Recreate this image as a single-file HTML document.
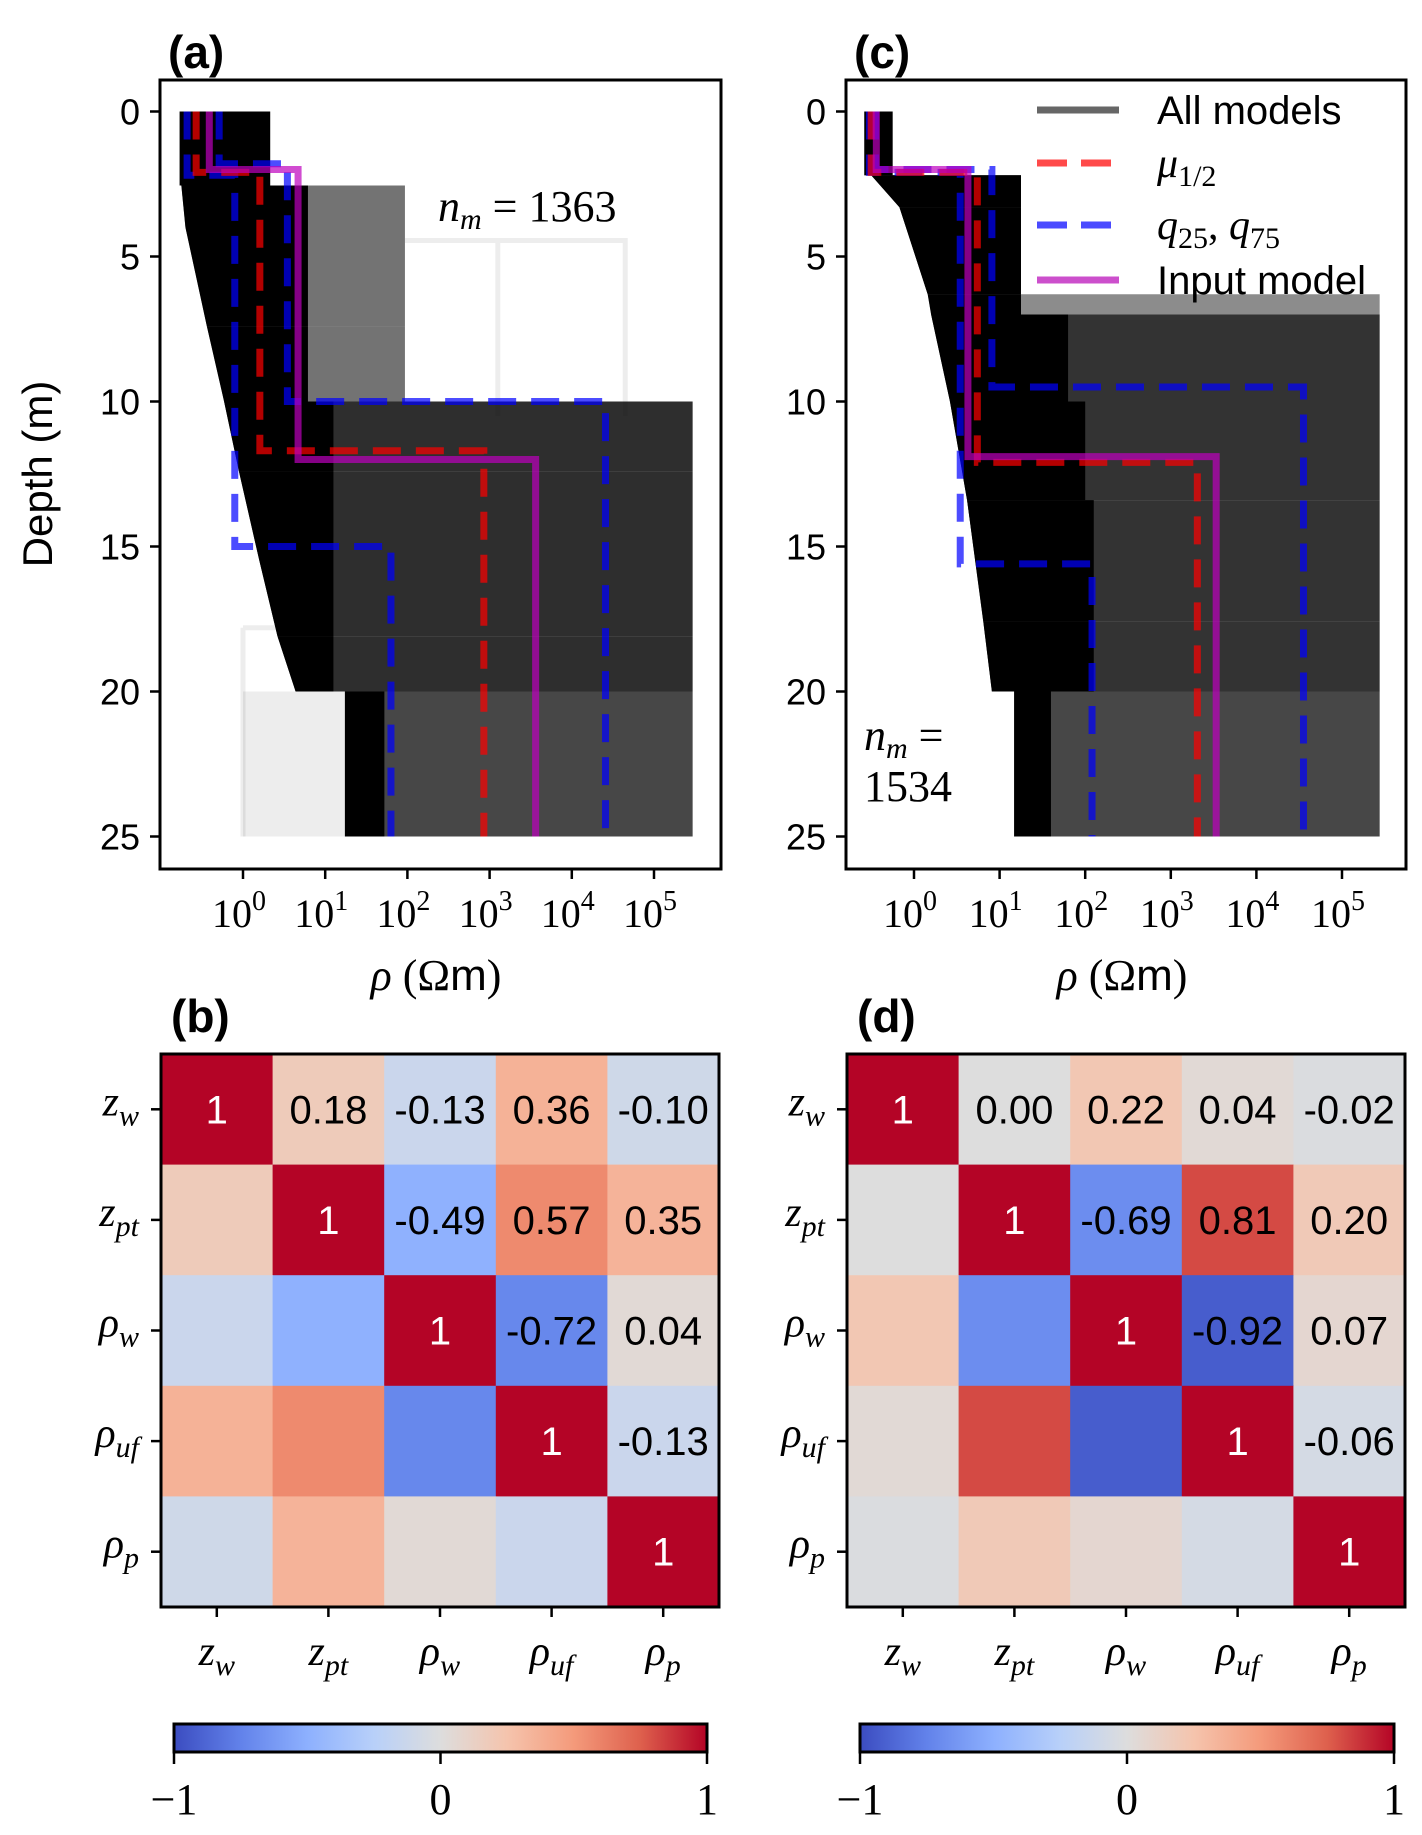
<!DOCTYPE html>
<html><head><meta charset="utf-8"><style>
html,body{margin:0;padding:0;background:#fff}
svg text{font-family:"Liberation Serif",serif}
.sans{font-family:"Liberation Sans",sans-serif}
</style></head><body>
<svg id="fig" xmlns="http://www.w3.org/2000/svg" width="1422" height="1830" viewBox="0 0 1422 1830">
<defs>
<linearGradient id="cw" x1="0" x2="1" y1="0" y2="0">
<stop offset="0" stop-color="rgb(59,76,192)"/><stop offset="0.125" stop-color="rgb(98,130,234)"/>
<stop offset="0.25" stop-color="rgb(141,176,254)"/><stop offset="0.375" stop-color="rgb(184,208,249)"/>
<stop offset="0.5" stop-color="rgb(221,221,221)"/><stop offset="0.625" stop-color="rgb(245,196,173)"/>
<stop offset="0.75" stop-color="rgb(244,154,123)"/><stop offset="0.875" stop-color="rgb(222,96,77)"/>
<stop offset="1" stop-color="rgb(180,4,38)"/>
</linearGradient>
<clipPath id="clipA"><rect x="160" y="80" width="561" height="789"/></clipPath>
<clipPath id="clipC"><rect x="846" y="80" width="560" height="789"/></clipPath>
</defs>
</svg>
<script>
// ---------- data ----------
const depthTicks = [0, 5, 10, 15, 20, 25];
const decadeTicks = [0, 1, 2, 3, 4, 5];
// ensemble layers (depth m, log10 rho): top, bottom, left edge at top, left edge at bottom, core right, gray right, gray opacity
const aTop    = [0,     2.55,  4.0,  7.4,  10.0, 12.4, 15.5, 18.1, 20];
const aBot    = [2.55,  4.0,   7.4,  10.0, 12.4, 15.5, 18.1, 20,   25];
const aLeftT  = [-0.77, -0.75, -0.7, -0.44, -0.23, -0.05, 0.2, 0.42, 1.24];
const aLeftB  = [-0.77, -0.7,  -0.44, -0.23, -0.05, 0.2, 0.42, 0.64, 1.24];
const aCore   = [0.33,  0.79,  0.79, 0.79, 1.1,  1.1,  1.1,  1.1,  1.72];
const aGray   = [0.33,  1.97,  1.97, 1.97, 5.47, 5.47, 5.47, 5.47, 5.47];
const aGrayOp = [1,     0.55,  0.55, 0.55, 0.82, 0.82, 0.82, 0.82, 0.72];
const cTop    = [0,     2.2,   3.3,  6.3,  7.0,  10.0, 13.4, 17.6, 20];
const cBot    = [2.2,   3.3,   6.3,  7.0,  10.0, 13.4, 17.6, 20,   25];
const cLeftT  = [-0.58, -0.5,  -0.17, 0.16, 0.2, 0.42, 0.62, 0.81, 1.17];
const cLeftB  = [-0.58, -0.17, 0.16, 0.2,  0.42, 0.62, 0.81, 0.91, 1.17];
const cCore   = [-0.25, 1.25,  1.25, 1.25, 1.8,  2.0,  2.1,  2.1,  1.6];
const cGray   = [-0.25, 1.25,  1.25, 5.44, 5.44, 5.44, 5.44, 5.44, 5.44];
const cGrayOp = [1,     1,     1,    0.45, 0.8,  0.8,  0.8,  0.8,  0.72];
// summary lines: step profiles [depth breaks], [log rho per layer]
const aMedD = [0, 2.1, 11.7, 25], aMedL = [-0.57, 0.205, 2.93];
const aInD = [0, 2.0, 12.0, 25], aInL = [-0.41, 0.67, 3.56];
const aQ25D = [0, 2.2, 15.0, 25], aQ25L = [-0.68, -0.1, 1.8];
const aQ75D = [0, 1.8, 10.0, 25], aQ75L = [-0.29, 0.54, 4.41];
const cMedD = [0, 2.1, 12.1, 25], cMedL = [-0.5, 0.74, 3.31];
const cInD = [0, 2.0, 11.9, 25], cInL = [-0.44, 0.63, 3.53];
const cQ25D = [0, 2.1, 15.6, 25], cQ25L = [-0.52, 0.54, 2.08];
const cQ75D = [0, 2.0, 9.5, 25], cQ75L = [-0.45, 0.91, 4.55];
// correlation matrices
const params = ['w', 'pt', 'w', 'uf', 'p'];
const corrB = [[1,0.18,-0.13,0.36,-0.10],[0.18,1,-0.49,0.57,0.35],[-0.13,-0.49,1,-0.72,0.04],[0.36,0.57,-0.72,1,-0.13],[-0.10,0.35,0.04,-0.13,1]];
const corrD = [[1,0.00,0.22,0.04,-0.02],[0.00,1,-0.69,0.81,0.20],[0.22,-0.69,1,-0.92,0.07],[0.04,0.81,-0.92,1,-0.06],[-0.02,0.20,0.07,-0.06,1]];
const cbarTicks = [-1, 0, 1];
const cbarLabels = ['\u22121', '0', '1'];

// ---------- helpers ----------
const NS = 'http://www.w3.org/2000/svg';
const svg = document.getElementById('fig');
function mk(tag, attrs, parent) { const e = document.createElementNS(NS, tag); for (const k in attrs) e.setAttribute(k, attrs[k]); (parent || svg).appendChild(e); return e; }
const yD = d => 111.5 + 29 * d;
const xA = l => 243 + 82.2 * l;
const xC = l => 914 + 85.6 * l;
const cmapStops = [[59,76,192],[98,130,234],[141,176,254],[184,208,249],[221,221,221],[245,196,173],[244,154,123],[222,96,77],[180,4,38]];
function coolwarm(v) { const t = Math.max(0, Math.min(1, (v + 1) / 2)) * 8; const i = Math.min(7, Math.floor(t)); const f = t - i; const a = cmapStops[i], b = cmapStops[i + 1]; return 'rgb(' + a.map((c, k) => Math.round(c + (b[k] - c) * f)).join(',') + ')'; }

function stepPath(xf, D, L) {
  let p = 'M' + xf(L[0]) + ',' + yD(D[0]);
  for (let i = 0; i < L.length; i++) { p += ' L' + xf(L[i]) + ',' + yD(D[i + 1]); if (i + 1 < L.length) p += ' L' + xf(L[i + 1]) + ',' + yD(D[i + 1]); }
  return p;
}
function layerPoly(g, xf, t, b, lt, lb, r, fill, op) {
  const pts = [xf(lt) + ',' + yD(t), xf(r) + ',' + yD(t), xf(r) + ',' + yD(b), xf(lb) + ',' + yD(b)].join(' ');
  return mk('polygon', { points: pts, fill: fill, 'fill-opacity': op }, g);
}

function profilePanel(key, fx, xf, clip, L, lines, label) {
  const g = mk('g', { 'clip-path': 'url(#' + clip + ')' });
  
  
  const [T, B, LT, LB, CORE, GRAY, GOP] = L;
  T.forEach((t, i) => {
    const p1 = layerPoly(g, xf, t, B[i], LT[i], LB[i], GRAY[i], '#000', GOP[i]);
    
    
    const p2 = layerPoly(g, xf, t, B[i], LT[i], LB[i], CORE[i], '#000', 1);
    
    
  });
  const styles = [
    { c: 'rgb(0,0,255)', dash: '28 15', name: 'q25-line' },
    { c: 'rgb(0,0,255)', dash: '28 15', name: 'q75-line' },
    { c: 'rgb(255,0,0)', dash: '28 15', name: 'median-line' },
    { c: 'rgb(190,0,190)', dash: 'none', name: 'input-model-line' }];
  lines.forEach((ln, i) => {
    const p = mk('path', { d: stepPath(xf, ln[0], ln[1]), fill: 'none', stroke: styles[i].c, 'stroke-width': 7, 'stroke-opacity': 0.7, 'stroke-dasharray': styles[i].dash }, g);
    
    
  });
  const x0 = fx, w = key === 'a' ? 561 : 560;
  const fr = mk('rect', { x: x0, y: 80, width: w, height: 789, fill: 'none', stroke: '#000', 'stroke-width': 3 });
  
  
  depthTicks.forEach(d => {
    mk('line', { x1: x0 - 10, x2: x0, y1: yD(d), y2: yD(d), stroke: '#000', 'stroke-width': 2.5 });
    const t = mk('text', { x: x0 - 20, y: yD(d) + 13, 'text-anchor': 'end', 'font-size': 36, class: 'sans' });
    t.textContent = d;
    
    
  });
  decadeTicks.forEach(k => {
    const x = xf(k);
    mk('line', { x1: x, x2: x, y1: 869, y2: 879, stroke: '#000', 'stroke-width': 2.5 });
    const t = mk('text', { x: x - 4, y: 927, 'text-anchor': 'middle', 'font-size': 40 });
    t.textContent = '10';
    const s = mk('tspan', { dy: -17, 'font-size': 28 }, t); s.textContent = k;
    
    
  });
  const xl = mk('text', { x: x0 + 276, y: 990, 'text-anchor': 'middle', 'font-size': 44 });
  xl.innerHTML = '<tspan font-style="italic">ρ</tspan> (Ω<tspan font-family="Liberation Sans, sans-serif">m</tspan>)';
  
  
  const pl = mk('text', { x: x0 + 8, y: 68, 'font-size': 46, 'font-weight': 'bold', class: 'sans' });
  pl.textContent = label;
  
  
}

// faint model lines panel (a) (drawn beneath)
const fg = mk('g', { 'clip-path': 'url(#clipA)' });


const fa = mk('path', { d: 'M' + xA(1.97) + ',' + yD(4.45) + ' H' + xA(4.65) + ' V' + yD(10.5) + ' M' + xA(3.1) + ',' + yD(4.45) + ' V' + yD(10.5) + ' M' + xA(0) + ',' + yD(17.8) + ' V' + yD(25) + ' M' + xA(0) + ',' + yD(17.8) + ' H' + xA(0.6), fill: 'none', stroke: '#000', 'stroke-opacity': 0.07, 'stroke-width': 5 }, fg);


const fb = mk('rect', { x: xA(0), y: yD(20), width: xA(1.24) - xA(0), height: yD(25) - yD(20), fill: '#000', 'fill-opacity': 0.07 }, fg);



profilePanel('a', 160, xA, 'clipA', [aTop, aBot, aLeftT, aLeftB, aCore, aGray, aGrayOp], [[aQ25D, aQ25L], [aQ75D, aQ75L], [aMedD, aMedL], [aInD, aInL]], '(a)');
profilePanel('c', 846, xC, 'clipC', [cTop, cBot, cLeftT, cLeftB, cCore, cGray, cGrayOp], [[cQ25D, cQ25L], [cQ75D, cQ75L], [cMedD, cMedL], [cInD, cInL]], '(c)');

// y axis title
const yt = mk('text', { x: 0, y: 0, transform: 'translate(52,474) rotate(-90)', 'text-anchor': 'middle', 'font-size': 42, class: 'sans' });
yt.textContent = 'Depth (m)';



// n_m annotations
const n1 = mk('text', { x: 438, y: 221, 'font-size': 44 });
n1.innerHTML = '<tspan font-style="italic">n</tspan><tspan font-style="italic" font-size="30" dy="8">m</tspan><tspan dy="-8"> = 1363</tspan>';


const n2 = mk('text', { x: 864, y: 750, 'font-size': 44 });
n2.innerHTML = '<tspan font-style="italic">n</tspan><tspan font-style="italic" font-size="30" dy="8">m</tspan><tspan dy="-8"> =</tspan>';


const n3 = mk('text', { x: 864, y: 801, 'font-size': 44 }); n3.textContent = '1534';



// legend
const legNames = ['All models', 'μ1/2', 'q25, q75', 'Input model'];
const legColors = ['rgb(102,102,102)', 'rgb(255,74,74)', 'rgb(74,74,255)', 'rgb(204,79,204)'];
const legDash = ['none', '30 14', '30 14', 'none'];
const legY = [110, 163, 225, 280];
legNames.forEach((n, i) => {
  const g = mk('g', {});
  
  
  mk('line', { x1: 1037, x2: 1119, y1: legY[i], y2: legY[i], stroke: legColors[i], 'stroke-width': 7, 'stroke-dasharray': legDash[i] }, g);
  const t = mk('text', { x: 1157, y: legY[i] + 14, 'font-size': 42 }, g);
  if (i === 0 || i === 3) { t.setAttribute('class', 'sans'); t.setAttribute('font-size', 40); t.textContent = n; }
  else if (i === 1) t.innerHTML = '<tspan font-style="italic">μ</tspan><tspan font-size="30" dy="9">1/2</tspan>';
  else t.innerHTML = '<tspan font-style="italic">q</tspan><tspan font-size="30" dy="9">25</tspan><tspan dy="-9">, </tspan><tspan font-style="italic">q</tspan><tspan font-size="30" dy="9">75</tspan>';
});

// heatmaps
function symLabel(i) {
  return (i < 2 ? '<tspan font-style="italic">z</tspan>' : '<tspan font-style="italic">ρ</tspan>') + '<tspan font-style="italic" font-size="30" dy="10">' + params[i] + '</tspan>';
}
function heatmap(key, x0, M, label) {
  const y0 = 1054, cw = 111.6, ch = 110.6;
  const g = mk('g', {});
  
  
  M.forEach((row, r) => row.forEach((v, c) => {
    const cell = mk('rect', { x: x0 + c * cw, y: y0 + r * ch, width: cw + 0.5, height: ch + 0.5, fill: coolwarm(v) }, g);
    
    
    if (c >= r) {
      const t = mk('text', { x: x0 + c * cw + cw / 2, y: y0 + r * ch + ch / 2 + 14, 'text-anchor': 'middle', 'font-size': 40, fill: r === c ? '#fff' : '#000', class: 'sans' }, g);
      t.textContent = r === c ? '1' : v.toFixed(2);
      
      
    }
  }));
  const fr = mk('rect', { x: x0, y: y0, width: cw * 5, height: ch * 5, fill: 'none', stroke: '#000', 'stroke-width': 3 });
  
  
  for (let i = 0; i < 5; i++) {
    const yc = y0 + i * ch + ch / 2, xc = x0 + i * cw + cw / 2;
    mk('line', { x1: x0 - 10, x2: x0, y1: yc, y2: yc, stroke: '#000', 'stroke-width': 2.5 });
    mk('line', { x1: xc, x2: xc, y1: y0 + 5 * ch, y2: y0 + 5 * ch + 10, stroke: '#000', 'stroke-width': 2.5 });
    const ty = mk('text', { x: x0 - 22, y: yc + 6, 'text-anchor': 'end', 'font-size': 42 });
    ty.innerHTML = symLabel(i);
    
    
    const tx = mk('text', { x: xc, y: 1665, 'text-anchor': 'middle', 'font-size': 42 });
    tx.innerHTML = symLabel(i);
    
    
  }
  const pl = mk('text', { x: x0 + 10, y: 1032, 'font-size': 46, 'font-weight': 'bold', class: 'sans' });
  pl.textContent = label;
  
  
}
heatmap('b', 161, corrB, '(b)');
heatmap('d', 847, corrD, '(d)');

// colorbars
function colorbar(key, x0, x1) {
  const cb = mk('rect', { x: x0, y: 1724, width: x1 - x0, height: 28, fill: 'url(#cw)', stroke: '#000', 'stroke-width': 3 });
  
  
  cbarTicks.forEach((v, i) => {
    const x = x0 + (v + 1) / 2 * (x1 - x0);
    mk('line', { x1: x, x2: x, y1: 1752, y2: 1764, stroke: '#000', 'stroke-width': 2.5 });
    const t = mk('text', { x: x, y: 1814, 'text-anchor': 'middle', 'font-size': 44 });
    t.textContent = cbarLabels[i];
    
    
  });
}
colorbar('b', 174, 707);
colorbar('d', 860, 1394);
</script>
</body></html>
